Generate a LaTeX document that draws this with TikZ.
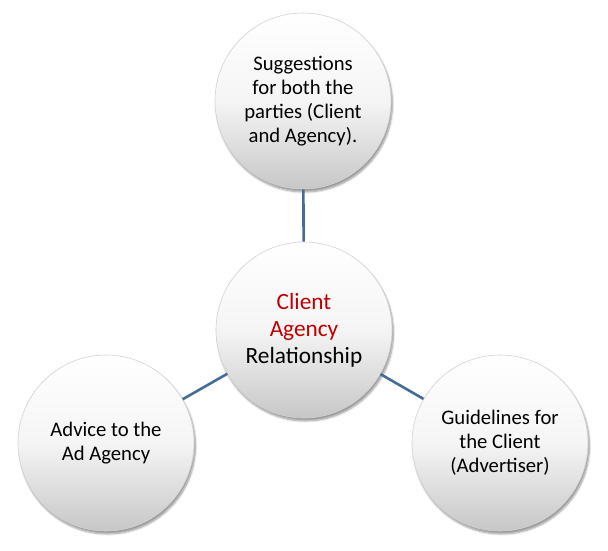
\documentclass[tikz,border=0pt]{standalone}
\usepackage{fontspec}
\setmainfont{Carlito}
\usetikzlibrary{shadows.blur}

\definecolor{linkblue}{RGB}{68,108,152}
\definecolor{titlered}{RGB}{192,0,0}

\tikzset{
  bubble/.style={circle, minimum size=176pt, inner sep=0pt, align=center,
    draw=gray!35, line width=0.6pt,
    top color=white, bottom color=black!22, middle color=white!96!black,
    blur shadow={shadow xshift=1.5pt, shadow yshift=-3pt, shadow blur steps=6, shadow opacity=40},
    font=\fontsize{20.7}{24}\selectfont},
  link/.style={linkblue, line width=2.6pt}
}

\begin{document}
\begin{tikzpicture}[x=1pt, y=-1pt]
        \useasboundingbox (0,0) rectangle (608,550);

        % the four bubbles
        \node[bubble] (top) at (303,101) {Suggestions\\for both the\\parties (Client\\and Agency).};
        \node[bubble, font=\fontsize{23.3}{27}\selectfont] (hub) at (304,330)
            {\textcolor{titlered}{Client}\\\textcolor{titlered}{Agency}\\Relationship};
        \node[bubble] (advice) at (106,443) {Advice to the\\Ad Agency};
        \node[bubble] (guide) at (500,443) {Guidelines for\\the Client\\(Advertiser)};

        % links between them
        \draw[link] (hub) -- (top);
        \draw[link] (hub) -- (advice);
        \draw[link] (hub) -- (guide);

\end{tikzpicture}
\end{document}
